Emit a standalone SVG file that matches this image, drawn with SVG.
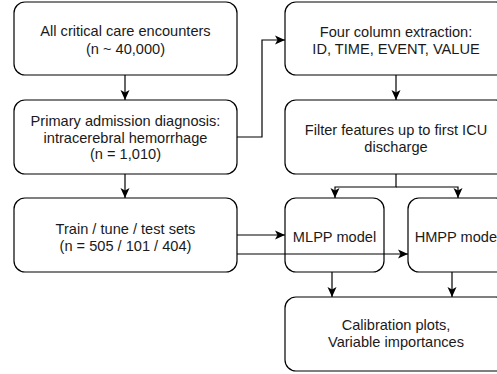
<svg xmlns="http://www.w3.org/2000/svg" width="497" height="374" viewBox="0 0 497 374">
<defs>
<style>
.box{fill:#fff;stroke:#000;stroke-width:1.2}
.t{font-family:"Liberation Sans",Arial,sans-serif;font-size:14.6px;fill:#1a1a1a;text-anchor:middle}
.c{fill:none;stroke:#000;stroke-width:1.2}
</style>
<marker id="ah" markerUnits="userSpaceOnUse" markerWidth="12" markerHeight="12" viewBox="0 0 12 12" refX="11" refY="6" orient="auto">
<path d="M1,1.5 L11,6 L1,10.5 L3.5,6 Z" fill="#000"/>
</marker>
</defs>
<rect width="497" height="374" fill="#fff"/>
<g id="connectors">
<path class="c" d="M125,75 V100" marker-end="url(#ah)"/>
<path class="c" d="M125,174 V198" marker-end="url(#ah)"/>
<path class="c" d="M237,137 H262 V40 H285" marker-end="url(#ah)"/>
<path class="c" d="M396,75 V100" marker-end="url(#ah)"/>
<path class="c" d="M396,174 V187 H335 V198" marker-end="url(#ah)"/>
<path class="c" d="M396,187 H458 V198" marker-end="url(#ah)"/>
<path class="c" d="M237,235 H285" marker-end="url(#ah)"/>
<path class="c" d="M332,272 V297" marker-end="url(#ah)"/>
<path class="c" d="M452,272 V297" marker-end="url(#ah)"/>
</g>
<g id="n1"><rect class="box" x="14" y="2" width="223" height="73" rx="11"/>
<text class="t" x="125.5" y="36">All critical care encounters</text>
<text class="t" x="125.5" y="53.5">(n ~ 40,000)</text></g>
<g id="n2"><rect class="box" x="14" y="100" width="223" height="74" rx="11"/>
<text class="t" x="125.5" y="126">Primary admission diagnosis:</text>
<text class="t" x="125.5" y="142.5">intracerebral hemorrhage</text>
<text class="t" x="125.5" y="159">(n = 1,010)</text></g>
<g id="n3"><rect class="box" x="14" y="198" width="223" height="74" rx="11"/>
<text class="t" x="125.5" y="233.5">Train / tune / test sets</text>
<text class="t" x="125.5" y="250.5">(n = 505 / 101 / 404)</text></g>
<g id="n4"><rect class="box" x="285" y="2" width="222" height="73" rx="11"/>
<text class="t" x="396" y="37">Four column extraction:</text>
<text class="t" x="396" y="53.5">ID, TIME, EVENT, VALUE</text></g>
<g id="n5"><rect class="box" x="285" y="100" width="222" height="74" rx="11"/>
<text class="t" x="396" y="135">Filter features up to first ICU</text>
<text class="t" x="396" y="152">discharge</text></g>
<g id="n6"><rect class="box" x="285" y="198" width="99" height="74" rx="11"/>
<text class="t" x="334.5" y="241.5">MLPP model</text></g>
<g id="n7"><rect class="box" x="408" y="198" width="99" height="74" rx="11"/>
<text class="t" x="457.5" y="241.5">HMPP model</text></g>
<g id="n8"><rect class="box" x="285" y="297" width="222" height="74" rx="11"/>
<text class="t" x="396" y="330">Calibration plots,</text>
<text class="t" x="396" y="347">Variable importances</text></g>
<g id="connectors-over">
<path class="c" d="M237,254 H408" marker-end="url(#ah)"/>
</g>
</svg>
